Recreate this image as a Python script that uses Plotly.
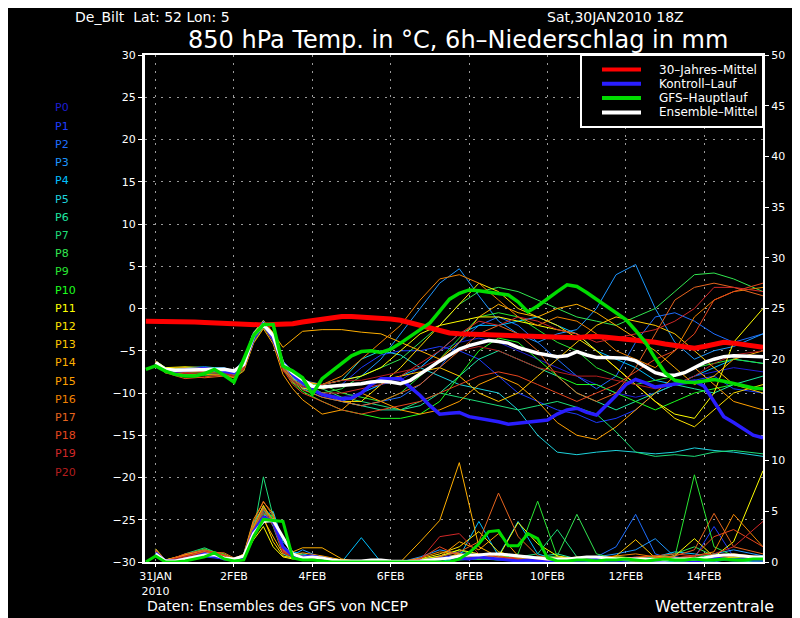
import pandas as pd
import plotly.graph_objects as go

# ---- data (GFS ensemble, De Bilt, run 30JAN2010 18Z) ----
run_start = pd.Timestamp("2010-01-30 18:00")

hours_6h = list(range(0, 379, 6))          # 0 .. 378 h
hours_6h_ens = list(range(6, 379, 6))      # ensemble starts at +6 h
member_hours = [6, 12, 24, 36, 48, 54, 60, 66, 72, 78, 84, 90, 96,
                108, 120, 132, 144, 156, 168, 180, 192, 204, 216, 228, 240,
                252, 264, 276, 288, 300, 312, 324, 336, 348, 360, 378]

climate_temp = [
    -1.5, -1.5, -1.5, -1.55, -1.6, -1.6, -1.65, -1.7,
    -1.75, -1.85, -1.9, -1.9, -1.95, -1.9, -1.9, -1.8,
    -1.6, -1.45, -1.25, -1.05, -0.95, -0.95, -1.0, -1.05,
    -1.1, -1.25, -1.4, -1.7, -2.1, -2.4, -2.7, -2.9,
    -3.0, -3.05, -3.05, -3.1, -3.15, -3.2, -3.25, -3.3,
    -3.35, -3.4, -3.45, -3.5, -3.45, -3.35, -3.3, -3.4,
    -3.5, -3.6, -3.7, -3.85, -4.0, -4.2, -4.4, -4.6,
    -4.7, -4.5, -4.2, -4.0, -4.1, -4.3, -4.5, -4.6,
]

gfs_temp = [
    -7.2, -6.8, -7.4, -7.8, -8.0, -8.0, -7.7, -7.2,
    -7.9, -8.7, -6.0, -3.2, -1.9, -1.9, -6.8, -7.4,
    -8.2, -10.1, -8.3, -7.4, -6.6, -5.6, -5.1, -5.0,
    -5.2, -4.8, -4.1, -3.3, -2.5, -1.7, -0.3, 1.1,
    1.8, 2.2, 2.1, 1.9, 1.8, 1.6, 0.8, -0.4,
    0.3, 1.2, 2.0, 2.8, 2.6, 1.9, 1.1, 0.2,
    -0.6, -1.3, -2.6, -4.0, -5.9, -7.6, -8.5, -8.7,
    -8.75, -8.6, -8.4, -8.6, -8.9, -9.2, -9.4, -9.5,
]
gfs_precip = [
    0.0, 0.6, 0.0, 0.0, 0.1, 0.3, 0.5, 0.9,
    0.3, 0.1, 0.2, 2.5, 4.2, 4.1, 4.0, 0.4,
    0.2, 0.2, 0.1, 0.0, 0.0, 0.0, 0.0, 0.0,
    0.0, 0.0, 0.0, 0.0, 0.0, 0.0, 0.0, 0.0,
    0.3, 0.9, 1.8, 3.0, 3.1, 1.6, 1.6, 2.8,
    2.3, 0.4, 0.1, 0.1, 0.2, 0.2, 0.1, 0.2,
    0.2, 0.3, 0.2, 0.1, 0.2, 0.3, 0.2, 0.2,
    0.3, 0.2, 0.2, 0.3, 0.2, 0.2, 0.3, 0.3,
]

control_temp = [
    -6.5, -7.3, -7.4, -7.3, -7.2, -7.1, -7.3,
    -7.4, -7.6, -6.5, -3.5, -1.8, -3.5, -6.5, -7.8,
    -8.8, -9.6, -10.2, -10.5, -10.7, -10.6, -10.0, -9.0,
    -8.3, -8.3, -8.3, -9.3, -10.3, -11.5, -12.5, -12.4,
    -12.3, -12.8, -13.0, -13.1, -13.4, -13.7, -13.6, -13.5,
    -13.4, -13.2, -12.5, -12.0, -11.8, -12.3, -12.6, -11.5,
    -10.3, -9.0, -8.4, -8.8, -9.3, -9.1, -8.9, -8.7,
    -8.6, -9.2, -11.0, -12.8, -13.5, -14.3, -15.0, -15.3,
]
control_precip = [
    0.9, 0.1, 0.1, 0.3, 0.5, 0.8, 0.6,
    0.3, 0.2, 0.5, 3.0, 4.4, 4.0, 1.5, 0.6,
    0.5, 0.6, 0.4, 0.2, 0.0, 0.0, 0.0, 0.0,
    0.0, 0.0, 0.0, 0.0, 0.1, 0.2, 0.3, 0.5,
    0.4, 0.3, 0.5, 0.4, 0.3, 0.2, 0.1, 0.2,
    0.1, 0.0, 0.1, 0.2, 0.1, 0.2, 0.3, 0.2,
    0.1, 0.2, 0.3, 0.2, 0.1, 0.2, 0.3, 0.2,
    0.1, 0.2, 0.4, 0.3, 0.2, 0.3, 0.2, 0.2,
]

mean_temp = [
    -6.4, -7.2, -7.3, -7.3, -7.3, -7.2, -7.2,
    -7.2, -7.4, -6.6, -3.2, -1.9, -3.2, -6.6, -7.6,
    -8.4, -9.2, -9.3, -9.2, -9.2, -9.0, -8.9, -8.7,
    -8.6, -8.7, -8.9, -8.5, -7.8, -7.0, -6.2, -5.5,
    -4.8, -4.4, -4.1, -3.8, -3.9, -4.1, -4.6, -5.0,
    -5.3, -5.5, -5.7, -5.6, -5.1, -5.5, -5.8, -5.8,
    -5.9, -5.9, -6.2, -6.9, -7.6, -7.9, -7.9, -7.6,
    -7.0, -6.4, -6.0, -5.7, -5.6, -5.6, -5.7, -5.7,
]
mean_precip = [
    0.8, 0.1, 0.1, 0.3, 0.5, 0.7, 0.7,
    0.4, 0.3, 0.6, 2.8, 4.0, 4.1, 2.5, 0.8,
    0.4, 0.5, 0.4, 0.2, 0.1, 0.1, 0.1, 0.2,
    0.2, 0.1, 0.05, 0.05, 0.1, 0.2, 0.3, 0.4,
    0.6, 0.7, 0.7, 0.8, 0.8, 0.7, 0.6, 0.5,
    0.4, 0.3, 0.3, 0.3, 0.4, 0.5, 0.5, 0.4,
    0.3, 0.3, 0.3, 0.3, 0.2, 0.2, 0.3, 0.3,
    0.3, 0.4, 0.6, 0.7, 0.7, 0.6, 0.5, 0.5,
]

member_names = ["P%d" % i for i in range(21)]
member_colors = [
    "#1e1ed2", "#1e3cff", "#1e6eff", "#1e96ff", "#00c0ff", "#1ed2dc",
    "#1ee6a0", "#1edc78", "#32e650", "#28e632", "#1eff1e", "#ffff00",
    "#ffe100", "#ffc800", "#ffaf00", "#ffa000", "#f08200", "#e6641e",
    "#e6461e", "#d22828", "#b41e1e",
]

# temperatures per member on member_hours (first 13 = t+6..t+96, then 12-hourly)
member_temp = [
    [-6.3, -7.2, -7.4, -7.3, -7.5, -7.8, -6.8, -3.5, -1.9, -3.6, -7.0, -8.4, -9.2,
     -10, -10.5, -10, -9, -8.5, -7, -5, -4, -3.5, -4, -5, -6, -7, -8, -9, -10, -10.5, -10, -9, -8, -7.5, -7, -7.5],
    [-6.5, -7.4, -7.6, -7.4, -7.3, -7.6, -6.2, -3.0, -1.7, -3.2, -6.5, -8.0, -8.9,
     -9.5, -9, -7, -5.5, -5, -5, -4.5, -5, -6, -8, -10, -11, -12, -12.5, -13.5, -13, -12, -10, -9, -8.5, -8, -9.5, -10],
    [-6.2, -7.1, -7.2, -7.0, -7.2, -7.5, -6.6, -3.4, -2.0, -3.8, -6.9, -8.2, -9.3,
     -10, -11, -11.5, -11, -10.5, -9, -7, -4, -2, -1, -2, -4, -6, -8, -9.5, -8, -4, -1, -0.5, -1.5, -3, -4, -3],
    [-6.6, -7.5, -7.3, -7.1, -7.0, -7.4, -6.0, -2.8, -1.5, -3.0, -6.2, -7.5, -8.5,
     -9, -8.5, -8, -6, -3, 0, 3, 4.7, 1.5, -1.5, -3, -4, -3, -2.5, 0, 4, 5.2, 0, -4, -6, -5, -4.5, -3],
    [-6.4, -7.3, -7.0, -6.9, -7.1, -7.6, -6.5, -3.3, -1.8, -3.3, -6.6, -8.1, -9.5,
     -10.5, -11, -10, -9, -8, -7, -5, -3, -2, -2, -1.5, -1, -2, -3, -5, -6, -7, -8.5, -9, -8, -7, -6, -6.5],
    [-6.3, -7.2, -7.5, -7.3, -7.4, -7.9, -7.0, -3.8, -2.1, -3.9, -7.2, -8.3, -8.8,
     -9, -8.5, -6, -5, -5.5, -7, -8, -9, -9.5, -10, -12, -15, -17, -17.3, -17, -16.8, -17, -17.2, -17, -16.5, -16.8, -17, -17.5],
    [-6.5, -7.6, -7.9, -7.7, -7.6, -7.8, -6.9, -3.6, -2.0, -3.5, -6.8, -8.6, -9.4,
     -10, -11, -11.5, -12, -12, -11.5, -10, -8, -6, -5, -6, -7, -8, -10, -11, -12, -11, -10, -9, -9.5, -10, -9, -8],
    [-6.2, -7.0, -7.2, -7.6, -7.7, -8.0, -7.3, -4.0, -2.2, -3.7, -7.1, -8.4, -9.1,
     -9.5, -10.5, -11, -11.5, -12, -11, -10, -10.5, -11, -11.5, -12, -11.5, -11, -11.7, -12.5, -14.6, -17, -17.5, -17.3, -17.5, -17, -16.8, -17.2],
    [-6.6, -7.4, -7.3, -7.2, -7.2, -7.4, -6.1, -3.1, -1.6, -3.1, -6.3, -7.7, -8.6,
     -10, -9.5, -8, -7, -6, -4, -2, 0.5, 2, 2.5, 2, 1, 0, -1, -1.5, -2, -1, 0, 2, 4, 4.2, 3.5, 2],
    [-6.4, -7.3, -7.8, -7.9, -7.8, -8.1, -7.2, -3.9, -2.3, -3.8, -7.3, -8.5, -9.0,
     -9, -10, -10.5, -11, -10, -8, -6, -3.5, -1, -0.5, -1, -2.5, -4, -5, -7, -8, -9, -8.5, -8, -7, -6.5, -6, -6.5],
    [-6.3, -7.5, -7.6, -7.5, -7.6, -7.9, -6.7, -3.4, -1.9, -3.6, -7.0, -8.8, -9.8,
     -11, -12, -12.5, -13, -13, -12.5, -11, -8, -5, -3.5, -4, -6, -8, -9, -9, -10, -11, -12, -11, -10, -9.5, -9, -9.5],
    [-6.2, -7.0, -6.9, -7.0, -7.2, -7.4, -6.3, -2.9, -1.4, -2.9, -6.4, -7.9, -8.7,
     -9, -8.5, -8, -7, -5, -3, -2, -1.5, -1, -1, -1.5, -2, -2.5, -3, -5, -7, -9, -11, -12.5, -13, -10, -4, 0],
    [-6.5, -7.3, -7.2, -7.1, -7.3, -7.7, -6.8, -3.5, -1.7, -3.4, -6.7, -8.3, -9.4,
     -10, -11, -11, -9, -7, -4.5, -2, 0.5, 3, 2, 0, -1, -2, -3.5, -5, -7, -9, -11, -13, -14, -12, -10, -9],
    [-6.4, -7.2, -7.4, -7.5, -7.5, -7.6, -6.4, -3.2, -1.6, -3.3, -6.6, -8.0, -9.0,
     -9.5, -9, -9, -8.5, -8, -7.5, -7, -8, -10, -11, -10, -8, -6, -4, -2, -1, -1.5, -2, -3, -5, -7, -9, -10],
    [-6.3, -7.1, -7.0, -7.3, -7.4, -7.7, -6.6, -3.0, -1.5, -2.9, -4.6, -3.6, -2.7,
     -2.5, -2.5, -2.8, -3, -4, -5, -6, -4, -1, 0.5, -0.5, -1, 0, 0.5, -0.5, -2, -3.5, -5, -7, -9, -8, -6, -5],
    [-6.6, -7.6, -7.7, -7.8, -7.9, -8.2, -7.4, -4.1, -2.4, -4.2, -7.8, -9.5, -10.8,
     -12.5, -12, -10, -11, -12, -12.5, -12, -11, -9, -8, -9, -11, -13.5, -15, -15.5, -14, -12, -10, -8, -7, -9, -11, -12],
    [-6.3, -7.3, -7.4, -7.2, -7.2, -7.5, -6.4, -3.1, -1.7, -3.2, -6.5, -7.8, -8.6,
     -9, -8, -6, -4, -2, 1, 3.5, 4, 3, 1, -1, -2, -1, -1.5, -3, -5, -6, -7, -5, -1, 1, 2, 2.5],
    [-6.5, -7.5, -8.0, -8.2, -8.0, -8.1, -7.1, -3.7, -2.0, -3.6, -7.0, -8.7, -9.6,
     -10.5, -11, -11.5, -11, -10, -9, -7, -5, -3, -2, -3, -5, -8, -10, -11, -10, -7, -3, 1, 2.5, 3, 2.5, 1.5],
    [-6.4, -7.6, -8.3, -8.1, -7.8, -8.0, -7.0, -3.6, -1.9, -3.7, -7.2, -9.0, -10.0,
     -11, -12, -12.5, -12, -11.5, -11, -10, -9, -8, -7.5, -8, -9, -10, -11, -10, -9, -7.5, -6, -5, -3, 1, 2, 3],
    [-6.2, -7.2, -7.6, -7.4, -7.6, -7.9, -6.9, -3.4, -1.8, -3.5, -6.9, -8.4, -9.2,
     -10, -10, -9.5, -9, -8, -6.5, -5, -3, -1.5, -2, -1, -1.5, -2.5, -3, -4, -3.5, -3, -2.5, -1.5, 0, 2.5, 2.5, 2],
    [-6.5, -7.4, -7.7, -7.6, -7.7, -8.0, -7.2, -3.8, -2.1, -3.9, -7.4, -8.6, -9.3,
     -9, -8.5, -8.5, -8, -7.5, -7, -6, -5, -4.5, -5, -6, -7, -7.5, -8, -8, -8.5, -9, -9.5, -9, -8, -6.5, -5.5, -5],
]

member_precip = [
    [1.0, 0, 0.3, 0.6, 0.4, 0.2, 0.3, 2.8, 4.6, 4.2, 1.0, 0.6, 0.5,
     0.3, 0, 0, 0, 0, 0, 0.2, 0.5, 0.3, 0.8, 0.4, 0.2, 0, 0.1, 0.3, 0.2, 0, 0.1, 0.3, 0.2, 0.5, 0.3, 0.2],
    [1.2, 0.1, 0.2, 0.5, 0.3, 0.2, 0.4, 3.2, 5.0, 4.5, 1.2, 0.5, 0.6,
     0.5, 0.1, 0, 0, 0, 0, 0, 0.3, 0.6, 0.4, 0.2, 0, 0, 0.2, 0.1, 0, 0.2, 0.3, 0, 0.4, 3.5, 0.5, 0.2],
    [0.9, 0, 0.4, 0.8, 0.5, 0.1, 0.5, 3.5, 4.8, 3.8, 0.9, 0.8, 0.7,
     0.2, 0, 0, 0, 0, 0.2, 0.6, 1.0, 0.4, 0.2, 0.1, 0, 0, 0, 0.5, 1.5, 4.7, 0.8, 0.2, 0.1, 0, 0.4, 0.3],
    [1.1, 0.1, 0.5, 1.0, 0.6, 0.3, 0.6, 3.0, 5.2, 4.0, 1.5, 0.7, 1.2,
     0.4, 0.2, 0, 0, 0, 0.5, 1.2, 0.8, 0.6, 0.3, 0.5, 0.2, 0.1, 0.3, 0.5, 0.8, 1.2, 2.3, 0.5, 0.3, 0.8, 1.2, 0.6],
    [0.8, 0, 0.3, 0.7, 0.4, 0.2, 0.4, 2.5, 4.5, 5.0, 2.0, 1.0, 0.8,
     0.3, 0, 2.4, 0, 0, 0, 0, 0.5, 4.0, 0.6, 4.0, 0.8, 0.2, 0, 0.1, 0.3, 0.2, 0.5, 1.0, 0.8, 0.5, 0.3, 0.6],
    [1.0, 0.2, 0.6, 1.2, 0.5, 0.2, 0.8, 4.0, 5.3, 3.5, 0.8, 0.4, 0.6,
     0.2, 0, 0, 0, 0, 0, 0, 0.2, 0.3, 0.4, 0.2, 0.1, 0.3, 0.2, 0, 0, 0, 0.1, 0, 0, 0.1, 0.2, 0],
    [1.3, 0.1, 0.4, 0.9, 0.3, 0.1, 0.6, 3.8, 5.5, 4.2, 1.0, 0.5, 0.4,
     0.3, 0, 0, 0, 0, 0, 0.3, 0.8, 0.4, 0.6, 0.3, 0.5, 0.8, 0.3, 0.2, 0.4, 0.3, 0.2, 0.1, 0.3, 0.6, 0.4, 0.3],
    [0.7, 0, 0.8, 1.4, 0.6, 0.2, 0.3, 3.0, 8.4, 4.5, 1.2, 0.6, 0.5,
     0.2, 0, 0, 0, 0, 0, 0.2, 0.6, 0.3, 0.2, 0.5, 0.8, 3.2, 0.5, 0.2, 0.1, 0, 0, 0, 0.1, 0.2, 0.1, 0],
    [1.1, 0.1, 0.5, 1.1, 0.4, 0.2, 0.5, 3.4, 4.9, 4.3, 1.4, 0.7, 0.6,
     0.4, 0.1, 0, 0, 0, 0.3, 0.5, 1.2, 0.5, 0.3, 0.2, 0.4, 0.6, 4.7, 0.8, 0.3, 0.2, 0.5, 0.8, 1.5, 0.6, 0.4, 0.5],
    [0.9, 0, 0.7, 1.3, 0.5, 0.2, 0.4, 2.8, 4.7, 4.6, 1.6, 0.8, 0.7,
     0.3, 0, 0, 0, 0, 0, 0.4, 0.7, 0.4, 0.3, 0.8, 6.0, 0.5, 0.3, 0.2, 0.4, 0.3, 0.2, 0.5, 8.6, 1.5, 0.6, 0.4],
    [1.0, 0.1, 0.6, 1.2, 0.8, 0.3, 0.6, 3.6, 5.1, 4.4, 1.1, 0.6, 0.5,
     0.5, 0.2, 0, 0, 0, 0, 0.2, 0.5, 0.3, 0.6, 0.4, 0.3, 0.2, 0.3, 0.2, 0.5, 0.4, 0.3, 0.2, 0.4, 0.8, 0.5, 0.3],
    [1.2, 0.2, 0.7, 1.1, 0.6, 0.2, 0.5, 2.2, 3.5, 1.5, 0.5, 0.3, 0.4,
     0.3, 0, 0, 0, 0, 0.2, 0.6, 1.2, 0.8, 0.5, 3.9, 1.8, 0.6, 0.3, 0.2, 0.3, 0.2, 0.4, 0.6, 2.3, 0.5, 2.0, 9.0],
    [1.0, 0.1, 0.6, 1.0, 0.5, 0.1, 0.4, 3.1, 4.4, 2.0, 0.6, 0.4, 0.3,
     0.4, 0, 0, 0, 0, 0.3, 0.8, 1.5, 3.0, 1.0, 0.5, 0.3, 0.2, 0.1, 0.3, 0.5, 0.4, 0.6, 0.3, 0.2, 0.4, 0.6, 0.5],
    [0.9, 0, 0.5, 0.9, 0.4, 0.2, 0.6, 3.4, 5.6, 3.8, 0.9, 0.5, 0.6,
     0.5, 0.2, 0, 0, 0, 0, 0.3, 0.8, 0.6, 0.4, 0.3, 0.2, 0.5, 0.3, 0.2, 0.6, 2.2, 0.4, 0.3, 0.2, 0.5, 0.4, 0.3],
    [1.1, 0.1, 0.4, 0.8, 0.6, 0.2, 0.3, 2.6, 4.2, 2.5, 0.8, 1.0, 1.4,
     1.4, 0.3, 0, 0, 0, 2.0, 4.1, 9.8, 1.5, 0.5, 0.3, 0.2, 0.1, 0.2, 0.3, 0.2, 0.4, 0.3, 0.2, 0.5, 0.3, 0.6, 0.4],
    [1.3, 0.2, 0.7, 1.0, 0.7, 0.3, 0.8, 4.2, 5.9, 4.8, 1.3, 0.7, 0.9,
     0.6, 0.2, 0, 0, 0, 0, 0.5, 2.0, 1.2, 2.8, 0.6, 0.3, 0.2, 0.5, 0.3, 0.2, 0.1, 0.2, 0.4, 0.3, 0.6, 0.8, 0.5],
    [0.8, 0, 0.5, 0.9, 0.5, 0.1, 0.5, 3.5, 5.4, 4.1, 1.0, 0.6, 0.5,
     0.4, 0, 0, 0, 0, 0.4, 1.0, 0.8, 0.5, 0.6, 0.3, 0.2, 0.3, 0.2, 0.4, 0.6, 0.8, 0.5, 0.4, 0.6, 1.0, 4.7, 1.5],
    [1.0, 0.1, 0.6, 1.0, 0.9, 0.4, 0.7, 3.9, 6.0, 4.5, 1.2, 0.8, 0.6,
     0.3, 0, 0, 0, 0, 0, 0.5, 1.0, 2.0, 6.8, 2.5, 0.6, 0.3, 0.2, 0.4, 0.3, 0.2, 0.4, 0.6, 1.2, 4.8, 1.5, 0.8],
    [1.2, 0.1, 0.8, 1.2, 0.7, 0.3, 0.6, 3.3, 5.2, 4.0, 1.1, 0.7, 0.5,
     0.4, 0.1, 0, 0, 0, 0.3, 1.5, 0.6, 0.4, 0.3, 0.5, 0.2, 0.3, 0.4, 0.3, 0.2, 0.5, 0.6, 0.8, 0.6, 2.5, 3.2, 1.5],
    [0.9, 0, 0.6, 1.1, 0.6, 0.2, 0.5, 3.0, 4.9, 3.9, 1.0, 0.6, 0.4,
     0.3, 0, 0, 0, 0, 0.2, 2.5, 2.8, 0.8, 0.5, 0.3, 0.2, 0.1, 0.2, 0.3, 0.2, 0.3, 0.2, 0.4, 0.6, 0.8, 1.5, 4.0],
    [1.1, 0.1, 0.5, 0.9, 0.5, 0.2, 0.4, 2.9, 4.6, 3.6, 0.9, 0.5, 0.5,
     0.2, 0, 0, 0, 0, 0, 0.3, 0.6, 0.4, 0.3, 0.2, 0.1, 0.2, 0.3, 0.2, 0.1, 0.2, 0.3, 0.2, 0.4, 0.5, 0.6, 0.3],
]

tick_dates = ["2010-01-31", "2010-02-02", "2010-02-04", "2010-02-06",
              "2010-02-08", "2010-02-10", "2010-02-12", "2010-02-14"]
tick_labels = ["31JAN<br>2010", "2FEB", "4FEB", "6FEB", "8FEB", "10FEB", "12FEB", "14FEB"]

legend_names = ["30–Jahres–Mittel", "Kontroll–Lauf", "GFS–Hauptlauf", "Ensemble–Mittel"]
legend_colors = ["#ff0000", "#2a1eff", "#00dc00", "#ffffff"]


def to_time(hours):
    return run_start + pd.to_timedelta(hours, unit="h")


FONT = "DejaVu Sans"
# the page body has an 8px margin, so the figure is 8px smaller than the window
OFF = 8
W, H = 800 - OFF, 618 - OFF
L, R, T, B = 145 - OFF, 37, 55 - OFF, 56


def paper(px, py):
    # position in the 800x618 window -> paper coordinates of the plot area
    return (px - OFF - L) / (W - L - R), (H - B - (py - OFF)) / (H - T - B)


fig = go.Figure()

# ensemble members, thin lines
for name, color, temps, rain in zip(member_names, member_colors, member_temp, member_precip):
    fig.add_trace(go.Scatter(x=to_time(member_hours), y=temps, mode="lines", name=name,
                             line=dict(color=color, width=1)))
    fig.add_trace(go.Scatter(x=to_time(member_hours), y=rain, mode="lines", name=name,
                             line=dict(color=color, width=1), yaxis="y2"))

# main lines
fig.add_trace(go.Scatter(x=to_time(hours_6h), y=climate_temp, mode="lines",
                         name=legend_names[0], line=dict(color=legend_colors[0], width=5)))
fig.add_trace(go.Scatter(x=to_time(hours_6h_ens), y=control_precip, mode="lines",
                         name=legend_names[1], line=dict(color=legend_colors[1], width=3), yaxis="y2"))
fig.add_trace(go.Scatter(x=to_time(hours_6h_ens), y=control_temp, mode="lines",
                         name=legend_names[1], line=dict(color=legend_colors[1], width=3.5)))
fig.add_trace(go.Scatter(x=to_time(hours_6h_ens), y=mean_precip, mode="lines",
                         name=legend_names[3], line=dict(color=legend_colors[3], width=3), yaxis="y2"))
fig.add_trace(go.Scatter(x=to_time(hours_6h_ens), y=mean_temp, mode="lines",
                         name=legend_names[3], line=dict(color=legend_colors[3], width=3.5)))
fig.add_trace(go.Scatter(x=to_time(hours_6h), y=gfs_precip, mode="lines",
                         name=legend_names[2], line=dict(color=legend_colors[2], width=3), yaxis="y2"))
fig.add_trace(go.Scatter(x=to_time(hours_6h), y=gfs_temp, mode="lines",
                         name=legend_names[2], line=dict(color=legend_colors[2], width=3.5)))

annotations = []
shapes = []

# member labels down the left side
for i, (name, color) in enumerate(zip(member_names, member_colors)):
    ax, ay = paper(53, 108 + 18.2 * i)
    annotations.append(dict(x=ax, y=ay, xref="paper", yref="paper", text=name,
                            showarrow=False, xanchor="left", yanchor="middle",
                            font=dict(family=FONT, size=11, color=color)))

# legend box in the upper right corner, drawn like the original
x0, y0 = paper(581, 127)
x1, y1 = paper(763, 55)
shapes.append(dict(type="rect", xref="paper", yref="paper", x0=x0, y0=y0, x1=x1, y1=y1,
                   fillcolor="black", line=dict(color="white", width=2), layer="above"))
for i, (name, color) in enumerate(zip(legend_names, legend_colors)):
    ly = 69.5 + 14.3 * i
    sx0, sy = paper(602, ly)
    sx1, _ = paper(641, ly)
    shapes.append(dict(type="line", xref="paper", yref="paper", x0=sx0, x1=sx1, y0=sy, y1=sy,
                       line=dict(color=color, width=4), layer="above"))
    tx, ty = paper(657, ly)
    annotations.append(dict(x=tx, y=ty, xref="paper", yref="paper", text=name,
                            showarrow=False, xanchor="left", yanchor="middle",
                            font=dict(family=FONT, size=12, color="white")))

# header and footer texts (top line anchored at the figure's top edge)
for txt, px, py, size, xanchor, yanchor in [
    ("De_Bilt  Lat: 52 Lon: 5", 74, 8, 14, "left", "top"),
    ("Sat,30JAN2010 18Z", 546, 8, 14, "left", "top"),
    ("850 hPa Temp. in °C, 6h–Niederschlag in mm", 458, 24.5, 24, "center", "top"),
    ("Daten: Ensembles des GFS von NCEP", 146, 606, 14, "left", "middle"),
    ("Wetterzentrale", 775, 606, 16, "right", "middle"),
]:
    ax, ay = paper(px, py)
    annotations.append(dict(x=ax, y=ay, xref="paper", yref="paper", text=txt,
                            showarrow=False, xanchor=xanchor, yanchor=yanchor, borderpad=0,
                            font=dict(family=FONT, size=size, color="white")))

fig.update_layout(
    width=W, height=H,
    margin=dict(l=L, r=R, t=T, b=B),
    paper_bgcolor="black", plot_bgcolor="black",
    font=dict(family=FONT, size=11, color="white"),
    showlegend=False,
    annotations=annotations,
    shapes=shapes,
    xaxis=dict(
        range=[to_time(-0.5), to_time(378)],
        tickvals=pd.to_datetime(tick_dates), ticktext=tick_labels,
        ticks="outside", ticklen=3, tickcolor="white",
        showline=True, linecolor="white", linewidth=2, mirror=True,
        showgrid=True, gridcolor="#9a9a9a", griddash="2px,6px", gridwidth=1,
        zeroline=False, tickfont=dict(size=11),
    ),
    yaxis=dict(
        range=[-30, 30], dtick=5, tick0=0,
        ticks="outside", ticklen=4, tickcolor="white",
        showline=True, linecolor="white", linewidth=3,
        showgrid=True, gridcolor="#9a9a9a", griddash="2px,6px", gridwidth=1,
        zeroline=False, tickfont=dict(size=11),
    ),
    yaxis2=dict(
        range=[0, 50], dtick=5, overlaying="y", side="right",
        ticks="outside", ticklen=4, tickcolor="white",
        showline=True, linecolor="white", linewidth=2,
        showgrid=False, zeroline=False, tickfont=dict(size=11),
    ),
)

fig.write_html("out.html")
